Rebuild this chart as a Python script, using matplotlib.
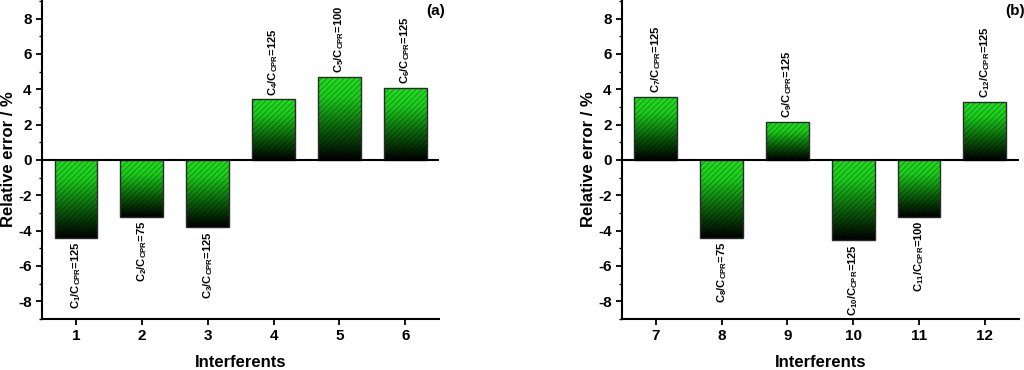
import numpy as np
import matplotlib
matplotlib.use("Agg")
import matplotlib.pyplot as plt
from matplotlib.colors import LinearSegmentedColormap

plt.rcParams['font.family'] = ['Liberation Sans', 'DejaVu Sans']
plt.rcParams['font.weight'] = 'bold'
plt.rcParams['mathtext.fontset'] = 'custom'
plt.rcParams['mathtext.rm'] = 'Liberation Sans:bold'
plt.rcParams['mathtext.default'] = 'rm'
plt.rcParams['axes.unicode_minus'] = False
plt.rcParams['hatch.linewidth'] = 0.6

# datos
interf_a = [1, 2, 3, 4, 5, 6]
error_a = [-4.43, -3.22, -3.82, 3.43, 4.71, 4.07]
ratio_a = [125, 75, 125, 125, 100, 125]

interf_b = [7, 8, 9, 10, 11, 12]
error_b = [3.56, -4.43, 2.17, -4.54, -3.24, 3.28]
ratio_b = [125, 75, 125, 125, 100, 125]

paneles = [
    (interf_a, error_a, ratio_a, "(a)", [0.041, 0.138, 0.388, 0.862]),
    (interf_b, error_b, ratio_b, "(b)", [0.6074, 0.138, 0.3874, 0.862]),
]

cmap = LinearSegmentedColormap.from_list(
    "verde", [(0.0, "#000000"), (0.35, "#0a5a0a"), (0.75, "#1ccc1c"), (1.0, "#22dd22")])
grad = np.linspace(0, 1, 256).reshape(-1, 1)

fig = plt.figure(figsize=(10.24, 3.70), dpi=100)

for xs, ys, ratios, tag, pos in paneles:
    ax = fig.add_axes(pos)
    ancho = 0.65
    bars = ax.bar(xs, ys, width=ancho, color="none", edgecolor="none", zorder=2)
    for b in bars:
        x0, y0 = b.get_x(), b.get_y()
        w, h = b.get_width(), b.get_height()
        ylo, yhi = min(y0, y0 + h), max(y0, y0 + h)
        im = ax.imshow(grad, extent=[x0, x0 + w, ylo, yhi], origin="lower",
                       cmap=cmap, aspect="auto", zorder=2)
        im.set_clip_path(b)
    ax.bar(xs, ys, width=ancho, color="none", edgecolor=(0, 0, 0, 0.35),
           linewidth=0, hatch="//////", zorder=3)
    ax.bar(xs, ys, width=ancho, color="none", edgecolor="#2a2a2a",
           linewidth=1.0, zorder=4)

    for x, y, r in zip(xs, ys, ratios):
        txt = r"C$_{%d}$/C$_{CPR}$=%d" % (x, r)
        if y > 0:
            ax.text(x, y + 0.2, txt, rotation=90, ha="center", va="bottom",
                    fontsize=8, zorder=5)
        else:
            ax.text(x, y - 0.2, txt, rotation=90, ha="center", va="top",
                    fontsize=8, zorder=5)

    ax.axhline(0, color="black", linewidth=1.5, zorder=5)
    ax.set_xlim(xs[0] - 0.515, xs[-1] + 0.515)
    ax.set_ylim(-9, 9.05)
    ax.set_xticks(xs)
    ax.set_yticks([-8, -6, -4, -2, 0, 2, 4, 6, 8])
    ax.set_yticks(np.arange(-9, 10, 1), minor=True)
    ax.tick_params(axis="both", which="major", direction="out", length=4,
                   width=1.3, labelsize=11)
    ax.tick_params(axis="y", which="minor", direction="out", length=2.5, width=1.0)
    for s in ["top", "right"]:
        ax.spines[s].set_visible(False)
    for s in ["left", "bottom"]:
        ax.spines[s].set_linewidth(1.5)
    ax.set_xlabel("Interferents", fontsize=12, fontweight="bold", va="top")
    ax.xaxis.set_label_coords(0.5, -0.112)
    ax.set_ylabel("Relative error / %", fontsize=12, fontweight="bold")
    ax.yaxis.set_label_coords(-0.066, 0.5)
    ax.text(1.015, 0.965, tag, transform=ax.transAxes, ha="right", va="center",
            fontsize=11, fontweight="bold")
    ax.patch.set_alpha(0)

fig.savefig("out.png", dpi=100)
